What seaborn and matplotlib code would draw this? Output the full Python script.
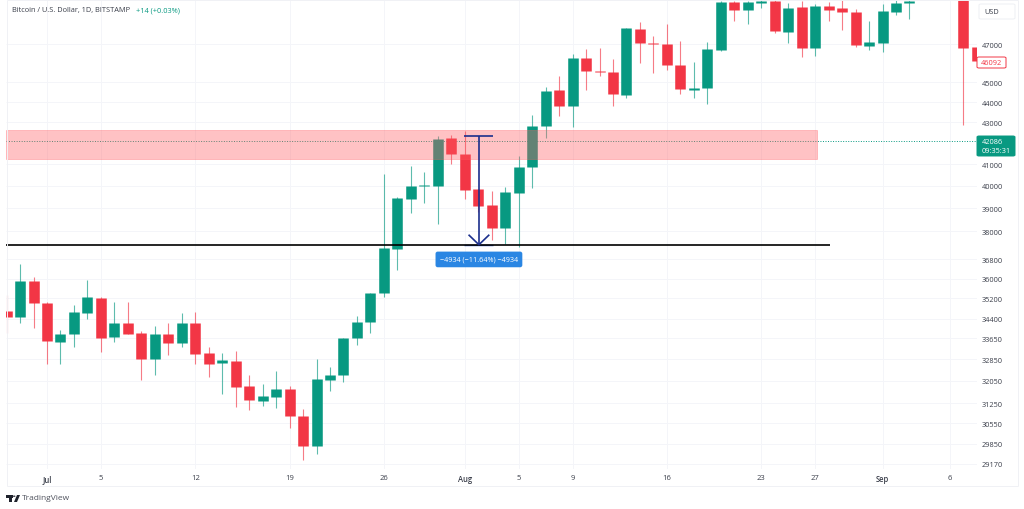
"""
Bitcoin / U.S. Dollar daily candles, TradingView style
"""
import matplotlib
matplotlib.use('Agg')
import matplotlib.pyplot as plt
from matplotlib.lines import Line2D
from matplotlib.patches import Circle, FancyBboxPatch, Polygon, Rectangle
import pandas as pd
import seaborn as sns

GREEN = '#089981'
RED = '#f23645'
NAVY = '#1b2f8c'
GRID = '#f4f5f9'
TEXT = '#3a3e4a'

# days counted from Jul 1
first_day = -3
opens = [34700, 34450, 35890, 35010, 33500, 33790, 34640, 35230, 33690, 34220,
         33830, 32850, 33790, 33480, 34240, 33070, 32710, 32790, 31860, 31340,
         31480, 31760, 30790, 29760, 32080, 32270, 33650, 34280, 35420, 37230,
         39410, 39980, 40000, 42240, 41480, 39860, 39140, 38130, 39680, 40870,
         42820, 44610, 43800, 46260, 45580, 45530, 44350, 47810, 47070, 46980,
         45890, 44590, 44710, 46700, 49300, 48850, 49240, 49370, 47630, 49000,
         46800, 49060, 48950, 48760, 46910, 47070, 48760, 49240, 49900, 51000,
         51800, 52700, 46850]
closes = [34450, 35890, 35010, 33530, 33790, 34660, 35270, 33660, 34220, 33820,
          32870, 33790, 33470, 34240, 33060, 32680, 32810, 31820, 31360, 31510,
          31760, 30810, 29760, 32110, 32270, 33650, 34260, 35410, 37260, 39460,
          40000, 40030, 42190, 41480, 39820, 39100, 38130, 39725, 40870, 42820,
          44560, 43800, 46260, 45580, 45510, 44400, 47860, 47070, 46980, 45890,
          44660, 44710, 46730, 49320, 48850, 49300, 49370, 47680, 48960, 46800,
          49080, 48870, 48760, 46950, 47120, 48810, 49240, 49370, 51000, 51800,
          52700, 46800, 46092]
highs = [35340, 36590, 36070, 35050, 33970, 34940, 35940, 35270, 35070, 35050,
         33910, 34100, 34230, 34620, 34660, 33310, 33090, 33160, 32260, 31930,
         32400, 31860, 31040, 32860, 32570, 33650, 34520, 35430, 40550, 39500,
         40910, 40640, 42335, 42380, 42580, 39860, 39770, 39950, 41380, 43360,
         44760, 45320, 46470, 46730, 46790, 46210, 47870, 48190, 47430, 48080,
         47160, 46050, 47110, 49370, 49370, 49370, 49500, 49500, 49220, 49370,
         49180, 49280, 49410, 48910, 48230, 49180, 49410, 49410, 51100, 52000,
         52900, 52900, 46850]
lows = [33840, 34230, 34040, 32670, 32670, 33320, 34400, 33130, 33500, 33790,
        32095, 32280, 33020, 33320, 32660, 32190, 31570, 31130, 31000, 31160,
        31090, 30380, 29290, 29490, 31690, 32000, 33400, 33840, 35260, 36370,
        38790, 39230, 38310, 41010, 39410, 38830, 37630, 37445, 37320, 39900,
        42240, 43310, 42770, 44610, 45320, 43800, 44220, 46000, 45480, 45630,
        44400, 44220, 43900, 46630, 48260, 48080, 48980, 47610, 47070, 46300,
        46350, 48260, 47770, 46830, 46680, 46580, 48590, 48350, 49600, 50500,
        50900, 42880, 46092]

x_ticks = [0, 4, 11, 18, 25, 31, 35, 39, 46, 53, 57, 62, 67]
x_labels = ['Jul', '5', '12', '19', '26', 'Aug', '5', '9', '16', '23', '27', 'Sep', '6']
month_labels = ['Jul', 'Aug', 'Sep']
y_ticks = [47000, 45000, 44000, 43000, 41000, 40000, 39000, 38000, 36800, 36000,
           35200, 34400, 33650, 32850, 32050, 31250, 30550, 29850, 29170]

# zone, support line and measure tool, in days and dollars
zone_days = [-3.05, 57.1]
zone_low = 41240
zone_high = 42610
support_days = [-3.05, 58.13]
support_price = 37424
last_price = 42086
close_price = 46092
measure_day = 32.05
measure_days = [30.96, 33.09]
measure_top = 42349
measure_bottom = 37415
head_days = [31.28, 32.82]
head_price = 37843

X_RANGE = (-3.044, 69.01)
Y_RANGE = (28998, 49410)
W, H = 1024, 510


def fx(px):
    return px / W


def fy(py):
    return 1 - py / H


def build_candles():
    days = list(range(first_day, first_day + len(opens)))
    df = pd.DataFrame({'day': days, 'open': opens, 'close': closes, 'high': highs, 'low': lows})
    df['side'] = ['up' if c >= o else 'down' for o, c in zip(df['open'], df['close'])]
    return df


def draw_candles(ax, df):
    palette = {'up': GREEN, 'down': RED}
    wicks = df.melt(id_vars=['day', 'side'], value_vars=['low', 'high'], value_name='price')
    bodies = df.melt(id_vars=['day', 'side'], value_vars=['open', 'close'], value_name='price')
    sns.lineplot(data=wicks, x='day', y='price', hue='side', units='day', estimator=None,
                 palette=palette, linewidth=0.8, alpha=0.65, legend=False, ax=ax,
                 solid_capstyle='butt', zorder=2)
    sns.lineplot(data=bodies, x='day', y='price', hue='side', units='day', estimator=None,
                 palette=palette, linewidth=7.6, legend=False, ax=ax,
                 solid_capstyle='butt', zorder=3)


def draw_drawings(ax):
    ax.plot([X_RANGE[0], X_RANGE[1]], [last_price, last_price], color=GREEN, lw=0.7,
            ls=(0, (1, 1.6)), zorder=2)
    ax.fill_between(zone_days, zone_low, zone_high, color='#ff5b60', alpha=0.37, lw=0.6, zorder=4)
    ax.plot(support_days, [support_price, support_price], color='black', lw=1.2, zorder=5)
    # measure tool
    ax.plot(measure_days, [measure_top, measure_top], color=NAVY, lw=1.2, zorder=6)
    ax.plot(measure_days, [measure_bottom, measure_bottom], color='#3a60c8', lw=1.0, zorder=4)
    ax.plot([measure_day, measure_day], [measure_top, measure_bottom], color=NAVY, lw=1.2, zorder=6)
    ax.plot([head_days[0], measure_day, head_days[1]], [head_price, measure_bottom, head_price],
            color=NAVY, lw=1.2, zorder=6)
    ax.text(measure_day, 36795, '\u22124934 (\u221211.64%) \u22124934', color='white', fontsize=5.2,
            ha='center', va='center', zorder=7,
            bbox=dict(boxstyle='round,pad=0.6,rounding_size=0.3', fc='#2a86e3', ec='none'))


def draw_price_tags(fig):
    tags = [(979, 5, 36, 15, 'white', '#eef0f4'),
            (977, 58, 29, 11, 'white', RED),
            (977, 137, 38, 20, GREEN, GREEN)]
    for x, y, w, h, fc, ec in tags:
        fig.add_artist(FancyBboxPatch((fx(x), fy(y + h)), w / W, h / H, transform=fig.transFigure,
                                      boxstyle='round,pad=0,rounding_size=0.002', fc=fc, ec=ec, lw=0.7))
    fig.text(fx(992), fy(12.5), 'USD', color=TEXT, fontsize=5.3, ha='center', va='center')
    fig.text(fx(991.5), fy(63.5), str(close_price), color=RED, fontsize=5.3, ha='center', va='center')
    fig.text(fx(982), fy(142.5), str(last_price), color='white', fontsize=5.3, ha='left', va='center')
    fig.text(fx(982), fy(151.5), '09:35:31', color='white', fontsize=5.3, ha='left', va='center')


def draw_frame_and_logo(fig):
    for xs, ys in [((6.5, 6.5), (1, 487)), ((6.5, 1017.5), (487, 487)), ((1017.5, 1017.5), (1, 487)),
                   ((6.5, 1017.5), (1, 1))]:
        fig.add_artist(Line2D([fx(v) for v in xs], [fy(v) for v in ys], color='#f0f1f5', lw=0.7))
    dark = '#1f222c'
    fig.add_artist(Rectangle((fx(6), fy(498.5)), 6.5 / W, 2.5 / H, transform=fig.transFigure, fc=dark, ec='none'))
    fig.add_artist(Rectangle((fx(9), fy(503)), 3 / W, 4.5 / H, transform=fig.transFigure, fc=dark, ec='none'))
    fig.add_artist(Polygon([(fx(14), fy(503)), (fx(17), fy(496)), (fx(20), fy(496)), (fx(17), fy(503))],
                           transform=fig.transFigure, fc=dark, ec='none'))
    fig.add_artist(Circle((fx(14.2), fy(497.2)), 1.3 / W, transform=fig.transFigure, fc=dark, ec='none'))
    fig.text(fx(22), fy(498.8), 'TradingView', color='#50535e', fontsize=6.0, ha='left', va='center')


def main():
    sns.set_theme(style='white')
    plt.rcParams['font.family'] = ['Open Sans', 'DejaVu Sans']
    plt.rcParams['lines.solid_capstyle'] = 'butt'

    fig = plt.figure(figsize=(W / 100, H / 100), dpi=100)
    ax = fig.add_axes([fx(6), fy(470), 971 / W, 469 / H])
    ax.set_yscale('log')

    draw_candles(ax, build_candles())
    draw_drawings(ax)

    ax.set_xlim(*X_RANGE)
    ax.set_ylim(*Y_RANGE)
    ax.set_xticks(x_ticks)
    ax.set_xticklabels(x_labels)
    ax.set_yticks(y_ticks)
    ax.set_yticklabels([str(v) for v in y_ticks])
    ax.minorticks_off()
    ax.yaxis.tick_right()
    ax.tick_params(axis='y', length=0, pad=3.6, labelsize=5.3, labelcolor=TEXT)
    ax.tick_params(axis='x', length=0, pad=3.5, labelsize=5.5, labelcolor=TEXT)
    for label in ax.get_xticklabels():
        if label.get_text() in month_labels:
            label.set_fontweight('semibold')
    ax.set_xlabel('')
    ax.set_ylabel('')
    ax.grid(True, color=GRID, lw=0.7, zorder=0)
    ax.set_axisbelow(True)
    for spine in ax.spines.values():
        spine.set_visible(False)

    fig.text(fx(12), fy(10.5), 'Bitcoin / U.S. Dollar, 1D, BITSTAMP', color=TEXT, fontsize=5.35,
             ha='left', va='center')
    fig.text(fx(136), fy(10.5), '+14 (+0.03%)', color=GREEN, fontsize=5.35, ha='left', va='center')

    draw_frame_and_logo(fig)
    draw_price_tags(fig)

    fig.savefig('out.png', dpi=100)
    plt.close(fig)


if __name__ == "__main__":
    main()
